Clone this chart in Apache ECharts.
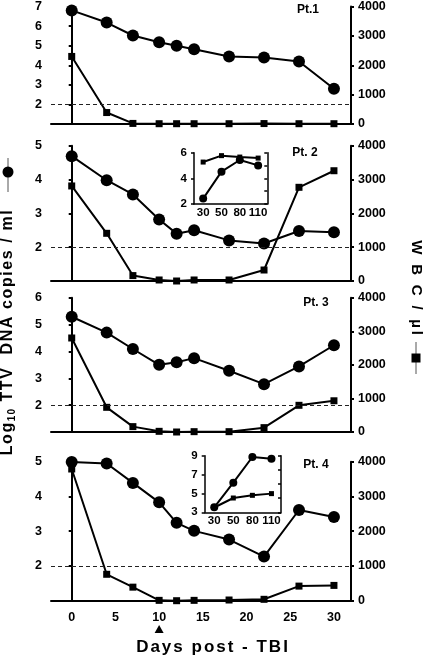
<!DOCTYPE html>
<html><head><meta charset="utf-8">
<script src="https://cdn.jsdelivr.net/npm/echarts@6/dist/echarts.min.js"></script>
<style>html,body{margin:0;padding:0;background:#fff}#c{width:425px;height:657px}</style>
</head><body><div id="c"></div>
<script>
// ---- data ----
const days = [0, 4, 7, 10, 12, 14, 18, 22, 26, 30];
const dayTicks = [0, 5, 10, 15, 20, 25, 30];
const ttv1 = [6.80, 6.18, 5.52, 5.17, 5.00, 4.82, 4.45, 4.40, 4.19, 2.80];
const wbc1 = [2300, 390, 20, 10, 10, 10, 10, 15, 10, 10];
const ttv2 = [4.69, 3.98, 3.56, 2.82, 2.40, 2.50, 2.20, 2.11, 2.48, 2.44];
const wbc2 = [2810, 1410, 160, 30, 0, 30, 30, 325, 2770, 3260];
const ttv3 = [5.29, 4.70, 4.09, 3.50, 3.60, 3.75, 3.28, 2.78, 3.44, 4.23];
const wbc3 = [2800, 735, 160, 20, 0, 10, 10, 130, 795, 930];
const ttv4 = [4.99, 4.95, 4.39, 3.83, 3.24, 3.01, 2.76, 2.27, 3.61, 3.41];
const wbc4 = [3790, 760, 390, 10, 0, 10, 20, 40, 420, 440];
const insetDays = ['30', '50', '80', '110'];
const ttvIn2 = [2.42, 4.52, 5.43, 5.01];
const wbcIn2 = [3270, 3770, 3660, 3580];
const ttvIn4 = [3.53, 6.14, 8.86, 8.68];
const wbcIn4 = [340, 1010, 1200, 1320];
const detectionLimit = 2;
const tbiDay = 10;

// ---- layout ----
const FONT = '"Liberation Sans", Arial, sans-serif';
const panels = [
  { ttv: ttv1, wbc: wbc1, yMax: 7, top: 5, height: 119, name: 'Pt.1', lx: 308, ly: 10 },
  { ttv: ttv2, wbc: wbc2, yMax: 5, top: 145.7, height: 135.3, name: 'Pt. 2', lx: 305, ly: 152.3 },
  { ttv: ttv3, wbc: wbc3, yMax: 6, top: 297.7, height: 134.3, name: 'Pt. 3', lx: 316, ly: 302.7 },
  { ttv: ttv4, wbc: wbc4, yMax: 5, top: 461.7, height: 139, name: 'Pt. 4', lx: 316, ly: 465 }
];
const insets = [
  { ttv: ttvIn2, wbc: wbcIn2, yMin: 2, yMax: 6, left: 194, top: 152.7, width: 73.3, height: 51.3 },
  { ttv: ttvIn4, wbc: wbcIn4, yMin: 3, yMax: 9, left: 204.7, top: 455.7, width: 76.3, height: 56.6 }
];

const lab = (extra) => Object.assign({ color: '#000', fontFamily: FONT, fontWeight: 'bold', fontSize: 12.5 }, extra);
const axLine = (w) => ({ show: true, lineStyle: { color: '#000', width: w } });

const grid = [], xAxis = [], yAxis = [], series = [];
panels.forEach((p, i) => {
  grid.push({ left: 51, width: 300, top: p.top, height: p.height });
  xAxis.push({
    type: 'value', gridIndex: i, min: -2.37, max: 31.95,
    axisLine: axLine(2), axisTick: { show: false }, splitLine: { show: false },
    axisLabel: lab({ show: i === 3, customValues: dayTicks, margin: 10 })
  });
  yAxis.push({
    type: 'value', gridIndex: i, position: 'left', min: 1, max: p.yMax, interval: 1,
    axisLine: axLine(2), axisTick: { show: true, length: 3, lineStyle: { color: '#000', width: 2 } },
    splitLine: { show: false },
    axisLabel: lab({ margin: 9, formatter: v => (v === 1 ? '' : String(v)) })
  });
  yAxis.push({
    type: 'value', gridIndex: i, position: 'right', min: 0, max: 4000, interval: 1000,
    axisLine: axLine(2), axisTick: { show: true, length: 3, lineStyle: { color: '#000', width: 2 } },
    splitLine: { show: false }, axisLabel: lab({ margin: 7, formatter: v => String(v) })
  });
  series.push({
    type: 'line', xAxisIndex: i, yAxisIndex: 2 * i + 1,
    data: days.map((d, k) => [d, p.wbc[k]]),
    symbol: 'rect', symbolSize: 7, showAllSymbol: true,
    lineStyle: { color: '#000', width: 2 }, itemStyle: { color: '#000' }, z: 3, animation: false
  });
  series.push({
    type: 'line', xAxisIndex: i, yAxisIndex: 2 * i,
    data: days.map((d, k) => [d, p.ttv[k]]),
    symbol: 'circle', symbolSize: 12, showAllSymbol: true,
    lineStyle: { color: '#000', width: 2 }, itemStyle: { color: '#000' }, z: 4, animation: false,
    markLine: {
      silent: true, symbol: 'none', label: { show: false },
      lineStyle: { color: '#222', width: 1, type: [4, 3] },
      data: [{ yAxis: detectionLimit }], animation: false
    }
  });
});
insets.forEach((s, j) => {
  const gi = 4 + j;
  grid.push({ left: s.left, top: s.top, width: s.width, height: s.height });
  xAxis.push({
    type: 'category', gridIndex: gi, data: insetDays, boundaryGap: true,
    axisLine: axLine(1.5), axisTick: { show: false }, splitLine: { show: false },
    axisLabel: lab({ fontSize: 11.5, margin: 3, interval: 0, hideOverlap: false })
  });
  const yl = yAxis.length;
  yAxis.push({
    type: 'value', gridIndex: gi, position: 'left', min: s.yMin, max: s.yMax, interval: 2,
    axisLine: axLine(1.5), axisTick: { show: true, length: 3, lineStyle: { color: '#000', width: 1.5 } },
    splitLine: { show: false }, axisLabel: lab({ fontSize: 11.5, margin: 7 })
  });
  yAxis.push({
    type: 'value', gridIndex: gi, position: 'right', min: 0, max: 4000, interval: 1000,
    axisLine: axLine(1.5), axisTick: { show: true, inside: true, length: 3, lineStyle: { color: '#000', width: 1.5 } },
    splitLine: { show: false }, axisLabel: { show: false }
  });
  series.push({
    type: 'line', xAxisIndex: gi, yAxisIndex: yl + 1, data: s.wbc,
    symbol: 'rect', symbolSize: 5, lineStyle: { color: '#000', width: 2 }, itemStyle: { color: '#000' }, animation: false
  });
  series.push({
    type: 'line', xAxisIndex: gi, yAxisIndex: yl, data: s.ttv,
    symbol: 'circle', symbolSize: 8, lineStyle: { color: '#000', width: 2 }, itemStyle: { color: '#000' }, animation: false
  });
});

// letter-spaced rich text: parts = [[styleName, string], ...]
function spaced(parts) {
  let out = '';
  parts.forEach(([st, str]) => { for (const ch of str) out += '{' + st + '|' + ch + '}'; });
  return out;
}
const rs = (size, pad, extra) => Object.assign({
  fontFamily: FONT, fontWeight: 'bold', fontSize: size, fill: '#000', padding: [0, pad, 0, 0]
}, extra || {});

const graphic = [];
panels.forEach(p => graphic.push({
  type: 'text', x: p.lx, y: p.ly,
  style: { text: p.name, fill: '#000', font: 'bold 12px ' + FONT, align: 'center', verticalAlign: 'middle' }
}));
// left axis title (rotated)
graphic.push({
  type: 'text', x: 8, y: 332, rotation: Math.PI / 2,
  style: {
    text: spaced([['a', 'Log'], ['s', '10'], ['a', ' TTV  DNA copies / ml']]),
    align: 'center', verticalAlign: 'middle',
    rich: {
      a: rs(16, 1.6, { lineHeight: 18 }),
      s: rs(10, 1.2, { lineHeight: 10, verticalAlign: 'bottom' })
    }
  }
});
graphic.push({ type: 'line', shape: { x1: 8, y1: 158, x2: 8, y2: 192 }, style: { stroke: '#555', lineWidth: 1 } });
graphic.push({ type: 'circle', shape: { cx: 8, cy: 172, r: 5.5 }, style: { fill: '#000' } });
// right axis title
graphic.push({
  type: 'text', x: 416, y: 289, rotation: -Math.PI / 2,
  style: {
    text: spaced([['a', 'W B C / µl']]), align: 'center', verticalAlign: 'middle',
    rich: { a: rs(15, 2.8) }
  }
});
graphic.push({ type: 'line', shape: { x1: 416, y1: 342, x2: 416, y2: 374 }, style: { stroke: '#555', lineWidth: 1 } });
graphic.push({ type: 'rect', shape: { x: 411.5, y: 353.5, width: 9, height: 9 }, style: { fill: '#000' } });
// x axis title
graphic.push({
  type: 'text', x: 213, y: 647,
  style: { text: spaced([['a', 'Days post - TBI']]), align: 'center', verticalAlign: 'middle', rich: { a: rs(17, 2) } }
});

const chart = echarts.init(document.getElementById('c'), null, { renderer: 'canvas' });
chart.setOption({ animation: false, backgroundColor: '#fff', grid, xAxis, yAxis, series, graphic });
// TBI marker under day 10 on bottom axis
const tx = chart.convertToPixel({ xAxisIndex: 3 }, tbiDay);
graphic.push({ type: 'polygon', shape: { points: [[tx - 4.5, 633], [tx + 4.5, 633], [tx, 625]] }, style: { fill: '#000' } });
chart.setOption({ graphic: graphic });
</script></body></html>
